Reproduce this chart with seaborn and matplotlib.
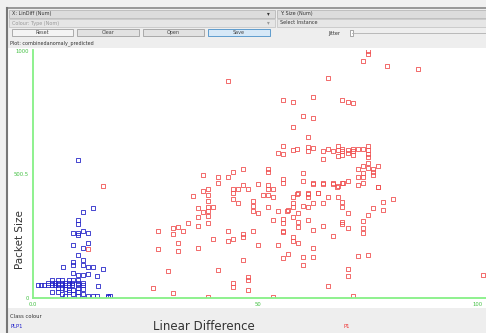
import numpy as np
import pandas as pd
import matplotlib
matplotlib.use("Agg")
import matplotlib.pyplot as plt
import seaborn as sb
from matplotlib.patches import Rectangle

# class PLP1 (blue)
plp1_diff = [10, 11.1, 13.3, 10, 10, 8.9, 10, 11.1, 12.2, 10, 12.2, 8.9, 11.1, 10, 11.1,
             6.7, 8.9, 8.9, 11.1, 12.2, 13.3, 15.6, 8.9, 10, 11.1, 12.2, 14.2,
             1.1, 1.8, 2.4, 3.3, 4.2, 4.9, 5.6, 6.4, 7.1, 8.0, 8.7, 10, 11.1,
             3.3, 4.2, 4.9, 5.6, 6.4, 7.1, 8.0, 8.7, 10, 11.1,
             4.2, 5.6, 6.4, 8.0, 8.9, 10, 14.4, 16.7,
             4.2, 5.6, 6.4, 7.1, 8.0, 8.9, 10, 10, 11.1, 12.2, 13.3, 14.2, 16.7, 17.1,
             5.6, 7.1, 8.9, 10, 11.1, 8.0, 6.4]
plp1_size = [559, 348, 364, 316, 300, 263, 263, 271, 263, 255, 223, 215, 202, 174, 154,
             126, 146, 134, 134, 126, 126, 117, 101, 93, 93, 97, 89,
             53, 53, 53, 53, 53, 53, 53, 53, 53, 53, 53, 53, 53,
             61, 61, 61, 61, 61, 61, 61, 61, 61, 61,
             73, 73, 73, 73, 73, 73, 49, 8,
             24, 24, 16, 8, 24, 16, 24, 8, 16, 8, 8, 8, 4, 8,
             40, 36, 32, 40, 36, 32, 40]

# class P1 (red)
p1_diff = [74.4, 74.4, 73.3, 78.7, 85.6, 65.6, 43.3, 62.2, 55.6, 57.8, 68.7, 70, 71.1, 60, 62.2,
           57.8, 61.1, 55.6, 54.4, 55.6, 57.8, 58.7, 61.1, 61.1, 62.2, 64.4, 64.4, 65.6, 66.7,
           67.8, 67.8, 67.8, 68.7, 68.7, 68.7, 70, 70, 71.1, 71.1, 71.1, 72.2, 73.3, 74.4, 74.4,
           74.4, 74.4, 74.4, 73.3, 72.2, 74.4, 75.6, 75.6, 75.6, 76.7, 73.3, 72.2, 73.3, 72.2,
           73.3, 76.7, 70, 68.7, 67.8, 66.7, 64.4, 62.2, 60, 60, 55.6, 55.6, 52.2, 50, 52.2, 52.2,
           53.3, 47.8, 46.7, 45.6, 44.4, 44.4, 43.3, 44.4, 41.1, 37.8, 37.8, 38.9, 38.9, 38.9,
           38.9, 38.9, 38.9, 38.9, 35.6, 36.7, 36.7, 36.7, 37.8, 40, 34.4, 44.4, 45.6, 48.9, 48.9,
           50, 48.9, 51.1, 52.2, 53.3, 52.2, 53.3, 54.4, 55.6, 55.6, 55.6, 56.4, 57.8, 57.8, 57.8,
           57.8, 58.7, 58.9, 58.9, 58.9, 60, 61.1, 61.1, 61.1, 61.1, 62.2, 63.3, 64.4, 64.4, 62.2,
           66.7, 67.8, 68.7, 68.7, 70, 68.7, 68.7, 70, 73.3, 73.3, 73.3, 74.4, 75.6, 76.7, 77.8,
           77.8, 80, 43.3, 44.4, 46.7, 46.7, 48.9, 57.8, 55.6, 62.2, 64.4, 66.7, 67.6, 68.9, 65.6,
           58.9, 61.1, 63.3, 56.7, 57.8, 58.9, 62.2, 55.6, 56.7, 60, 62.2, 60, 72.2, 74.4, 70, 70,
           65.6, 71.1, 100, 30, 41.1, 46.7, 44.4, 44.4, 47.8, 47.8, 47.8, 26.7, 31.1, 38.9, 53.3,
           54.4, 33.3, 32.2, 31.1, 31.1, 27.8, 32.2, 32.2, 36.7, 27.8, 40, 43.3, 50, 41.1, 46.7,
           52.2, 15.6, 12.2]
p1_size = [1000, 988, 960, 940, 927, 891, 879, 814, 802, 794, 802, 794, 790, 737, 729,
           693, 652, 616, 587, 583, 599, 603, 612, 595, 608, 595, 563, 603, 595,
           616, 599, 575, 603, 595, 579, 599, 587, 603, 595, 579, 603, 603, 616, 599,
           583, 571, 547, 535, 522, 527, 522, 510, 498, 535, 490, 490, 506, 458,
           466, 450, 474, 466, 454, 462, 462, 466, 506, 474, 482, 466, 510, 462, 458, 441,
           441, 441, 458, 441, 441, 425, 490, 510, 466, 498, 433, 441, 417, 393,
           369, 352, 332, 304, 413, 364, 328, 292, 348, 369, 304, 401, 385, 393, 373,
           344, 352, 417, 417, 409, 369, 316, 352, 320, 304, 271, 352, 409, 385, 369,
           328, 421, 344, 308, 288, 373, 421, 409, 369, 316, 385, 425, 385, 292, 275,
           251, 409, 389, 369, 344, 308, 300, 284, 312, 284, 263, 336, 364, 450, 389,
           356, 401, 271, 239, 259, 247, 271, 247, 267, 462, 466, 466, 450, 466, 409,
           425, 425, 425, 356, 231, 223, 202, 162, 178, 166, 166, 134, 170, 174, 117, 89,
           49, 8, 93, 109, 113, 154, 61, 45, 85, 73, 32, 40, 20, 4, 4,
           215, 271, 288, 284, 259, 271, 223, 190, 202, 198, 239, 231, 215, 490, 522,
           522, 454, 198]

df = pd.DataFrame({
    "diff": plp1_diff + p1_diff,
    "size": plp1_size + p1_size,
    "cls": ["PLP1"] * len(plp1_diff) + ["P1"] * len(p1_diff),
})

W, H = 486, 333
fig = plt.figure(figsize=(W / 100, H / 100), dpi=100)
fig.patch.set_facecolor("#f0f0f0")

# window chrome drawn in pixel coords
bg = fig.add_axes([0, 0, 1, 1])
bg.set_xlim(0, W)
bg.set_ylim(H, 0)
bg.axis("off")
bg.add_patch(Rectangle((7, 8), W - 7, H - 8, facecolor="#eeeeee", edgecolor="none"))
bg.plot([7, W], [8, 8], color="#888888", lw=1.2)
bg.plot([7, 7], [8, H], color="#777777", lw=1.5)
bg.add_patch(Rectangle((8, 48), W - 8, 260, facecolor="white", edgecolor="none"))
for x0, x1 in [(9, 275), (277, W)]:
    bg.add_patch(Rectangle((x0, 10), x1 - x0, 8, facecolor="#dcdcdc", edgecolor="#b0b0b0", lw=0.5))
    bg.add_patch(Rectangle((x0, 19), x1 - x0, 8, facecolor="#e6e6e6", edgecolor="#c0c0c0", lw=0.5))
small = dict(fontsize=3.5, color="#333333", va="center")
bg.text(12, 14, "X: LinDiff (Num)", **small)
bg.text(280, 14, "Y: Size (Num)", **small)
bg.text(12, 23, "Colour: Type (Nom)", color="#999999", fontsize=3.5, va="center")
bg.text(280, 23, "Select Instance", **small)
bg.text(267, 14, "\u25be", fontsize=4, color="#333333", va="center")
bg.text(267, 23, "\u25be", fontsize=4, color="#999999", va="center")
buttons = [("Reset", 12, 73, "#f4f4f4"), ("Clear", 77, 139, "#e2e2e2"),
           ("Open", 143, 204, "#e2e2e2"), ("Save", 208, 270, "#d6e8f7")]
for name, x0, x1, fc in buttons:
    ec = "#4a90c8" if name == "Save" else "#a0a0a0"
    bg.add_patch(Rectangle((x0, 29), x1 - x0, 7, facecolor=fc, edgecolor=ec, lw=0.6))
    bg.text((x0 + x1) / 2, 32.5, name, fontsize=3.5, color="#444444", ha="center", va="center")
bg.text(340, 33, "Jitter", fontsize=3.5, color="#333333", va="center", ha="right")
bg.plot([352, W], [33, 33], color="#b0b0b0", lw=0.6)
bg.add_patch(Rectangle((350, 30), 3, 6, facecolor="white", edgecolor="#888888", lw=0.5))
bg.text(10, 43, "Plot: combinedanomaly_predicted", fontsize=3.5, color="#333333", va="center")
bg.text(10, 316, "Class colour", fontsize=3.8, color="#333333", va="center")
bg.text(10, 327, "PLP1", fontsize=3.8, color="#2222cc", va="center")
bg.text(343, 327, "P1", fontsize=3.8, color="#ee3333", va="center")
bg.text(204, 326, "Linear Difference", fontsize=8.5, color="#333333", ha="center", va="center")
bg.text(20, 240, "Packet Size", fontsize=7.5, color="#333333", ha="center", va="center", rotation=90)

# scatter area
ax = fig.add_axes([33 / W, (H - 298) / H, (W - 33) / W, (298 - 50) / H])
ax.set_facecolor("none")
# one call per class so each gets hollow squares in its own colour
for cls, col in [("P1", "#f05050"), ("PLP1", "#2424c8")]:
    sub = df[df["cls"] == cls]
    sb.scatterplot(x=sub["diff"], y=sub["size"], marker="s", s=6,
                   facecolor="none", edgecolor=col, linewidth=0.7,
                   alpha=0.85, ax=ax)
ax.set_xlim(0, 100 * 453 / 450)
ax.set_ylim(0, 1004)
for sp in ["top", "right"]:
    ax.spines[sp].set_visible(False)
for sp in ["left", "bottom"]:
    ax.spines[sp].set_color("#86f086")
    ax.spines[sp].set_linewidth(1.3)
ax.set_xticks([0, 50, 100])
ax.set_xticklabels(["0.0", "50", "100"])
ax.get_xticklabels()[-1].set_horizontalalignment("right")
ax.set_yticks([0, 500.5, 1000])
ax.set_yticklabels(["0", "500.5", "1000"])
ax.tick_params(length=0, labelsize=3.8, labelcolor="#40c040", pad=3)
ax.set_xlabel("")
ax.set_ylabel("")

fig.savefig("out.png", dpi=100)
